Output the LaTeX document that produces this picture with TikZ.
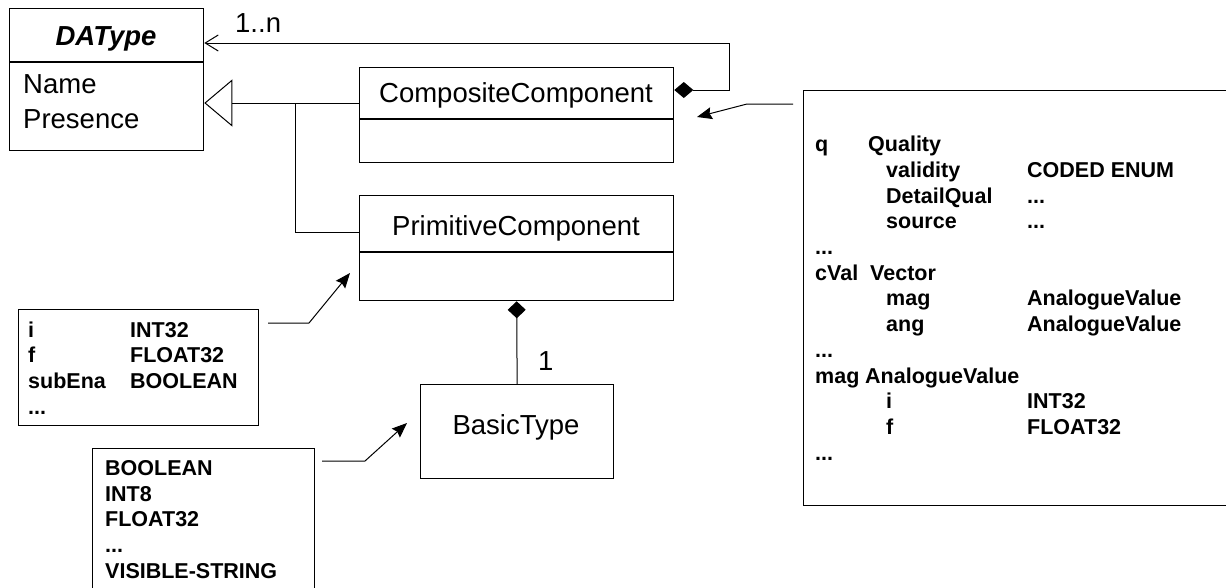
\documentclass[tikz,border=0pt]{standalone}
\usepackage{fontspec}
\setmainfont{Liberation Sans}
\usetikzlibrary{arrows.meta}
\begin{document}
\begin{tikzpicture}[x=1pt,y=-1pt,
  box/.style={draw,line width=1.3pt,minimum width=#1,anchor=north west,inner sep=0pt},
  conn/.style={line width=1pt},
  reg/.style={font=\fontsize{27.5}{32}\selectfont,inner sep=0pt},
  regbase/.style={reg,anchor=base west},
  bld/.style={font=\fontsize{21.5}{25.7}\bfseries\selectfont,inner sep=0pt,anchor=base west},
  notearrow/.style={conn,-{Stealth[length=15,width=12,inset=2]}}
]
\useasboundingbox (0,0) rectangle (1226,587);
% DAType
\node[box=194,minimum height=142] (dat) at (9,8) {};
\draw[line width=1.3pt] (dat.west |- 0,62) -- (dat.east |- 0,62);
\node[reg,anchor=base,font=\fontsize{27.5}{32}\bfseries\itshape\selectfont] (datt) at (106,45) {DAType};
\node[regbase] (datn) at (23,93) {Name};
\node[regbase] (datp) at (23,128) {Presence};
% CompositeComponent
\node[box=314,minimum height=95] (comp) at (359,67) {};
\draw[line width=1.3pt] (comp.west |- 0,119) -- (comp.east |- 0,119);
\node[reg,anchor=base] (compt) at (516,102) {CompositeComponent};
% PrimitiveComponent
\node[box=314,minimum height=105] (prim) at (359,195) {};
\draw[line width=1.3pt] (prim.west |- 0,252) -- (prim.east |- 0,252);
\node[reg,anchor=base] (primt) at (516,235) {PrimitiveComponent};
% BasicType
\node[box=193,minimum height=94] (bt) at (420,384) {};
\node[reg,anchor=base] (btt) at (516,434) {BasicType};
% connectors
\coordinate (jn) at (295,103);
\draw[conn,-{Triangle[open,length=28,width=47,fill=white]}] (comp.west |- 0,103) -- (dat.east |- 0,103);
\draw[conn] (jn) |- (prim.west |- 0,232);
\draw[conn,{Diamond[length=19,width=16]}-{Straight Barb[length=13,width=16]}] (comp.east |- 0,90) -- (729,90) -- (729,43) -- (dat.east |- 0,43);
\node[regbase] (mult1) at (235,32) {1..n};
\draw[conn,{Diamond[length=17,width=18]}-] (prim.south) -- (bt.north);
\node[regbase] (mult2) at (538,370) {1};
% note 1
\node[box=240,minimum height=116] (n1) at (18,309) {};
\node[bld] (n1a) at (28,337.2) {i};
\node[bld] (n1b) at (130,337.2) {INT32};
\node[bld] (n1c) at (28,362.9) {f};
\node[bld] (n1d) at (130,362.9) {FLOAT32};
\node[bld] (n1e) at (28,388.6) {subEna};
\node[bld] (n1f) at (130,388.6) {BOOLEAN};
\node[bld] (n1g) at (28,414.3) {...};
\coordinate (n1s) at (268,323);
\draw[notearrow] (n1s) -- (309,323) -- (350,273);
% note 2
\node[box=222,minimum height=160] (n2) at (92,448) {};
\node[bld] (n2a) at (105,475.7) {BOOLEAN};
\node[bld] (n2b) at (105,501.3) {INT8};
\node[bld] (n2c) at (105,526.9) {FLOAT32};
\node[bld] (n2d) at (105,552.5) {...};
\node[bld] (n2e) at (105,578.1) {VISIBLE-STRING};
\coordinate (n2s) at (322,461);
\draw[notearrow] (n2s) -- (365,461) -- (407,423);
% note 3
\node[box=440,minimum height=415] (n3) at (803,90) {};
\node[bld] (q1) at (815,151.7) {q};
\node[bld] (q2) at (868,151.7) {Quality};
\node[bld] (q3) at (886,177.4) {validity};
\node[bld] (q4) at (1027,177.4) {CODED ENUM};
\node[bld] (q5) at (886,203.1) {DetailQual};
\node[bld] (q6) at (1027,203.1) {...};
\node[bld] (q7) at (886,228.8) {source};
\node[bld] (q8) at (1027,228.8) {...};
\node[bld] (q9) at (815,254.5) {...};
\node[bld] (q10) at (815,280.2) {cVal};
\node[bld] (q11) at (870,280.2) {Vector};
\node[bld] (q12) at (886,305.9) {mag};
\node[bld] (q13) at (1027,305.9) {AnalogueValue};
\node[bld] (q14) at (886,331.6) {ang};
\node[bld] (q15) at (1027,331.6) {AnalogueValue};
\node[bld] (q16) at (815,357.3) {...};
\node[bld] (q17) at (815,383.0) {mag};
\node[bld] (q18) at (865,383.0) {AnalogueValue};
\node[bld] (q19) at (886,408.7) {i};
\node[bld] (q20) at (1027,408.7) {INT32};
\node[bld] (q21) at (886,434.4) {f};
\node[bld] (q22) at (1027,434.4) {FLOAT32};
\node[bld] (q23) at (815,460.1) {...};
\coordinate (n3s) at (793,104);
\draw[notearrow] (n3s) -- (747,104) -- (697,117);
\end{tikzpicture}
\end{document}
